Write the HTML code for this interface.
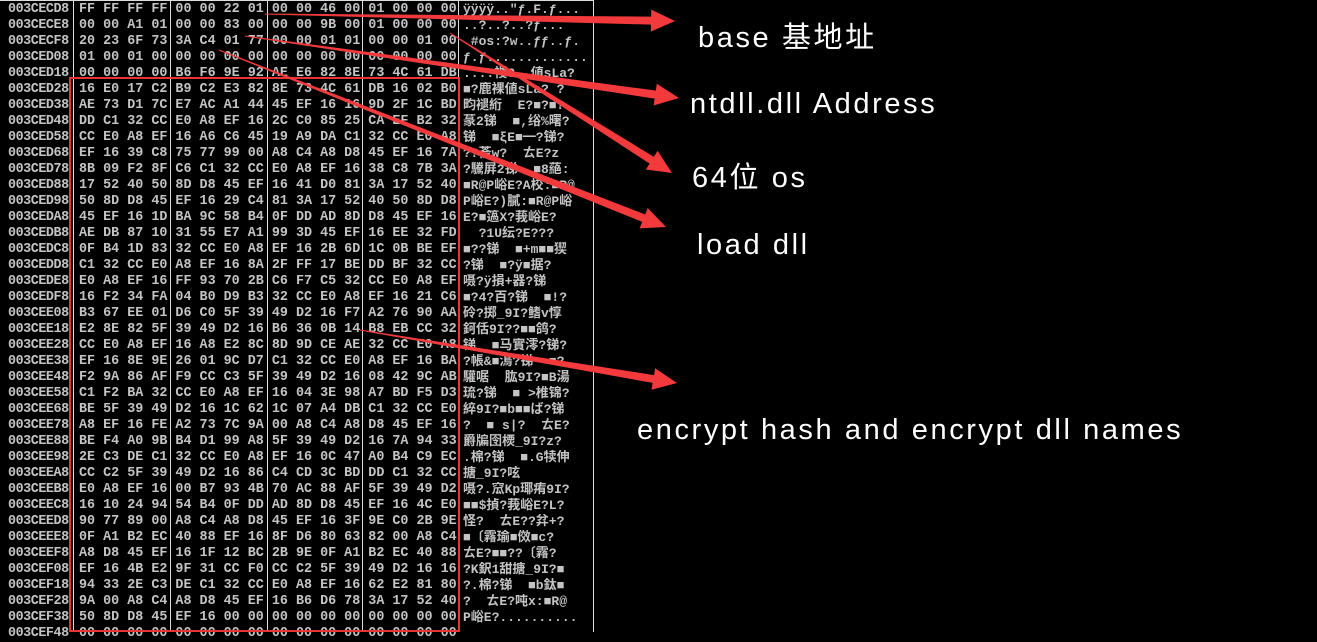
<!DOCTYPE html>
<html><head><meta charset="utf-8"><style>
body{margin:0;width:1317px;height:632px;background:#000;overflow:hidden;position:relative;font-family:"Liberation Mono","Noto Sans CJK SC",monospace;}
.r{position:absolute;left:0;height:16px;line-height:16px;font-size:13.4px;font-weight:bold;color:#c4c4c4;white-space:pre;}
.a{position:absolute;left:8px;letter-spacing:-0.45px}
.b{position:absolute;left:79px}
.c{position:absolute;left:463px;width:128px;overflow:hidden;font-size:13px;font-family:"Liberation Mono","Noto Sans CJK SC",monospace}
.v{position:absolute;top:0;width:1px;height:632px;background:#ddd}
.t{position:absolute;color:#fff;font-family:"Liberation Sans","Noto Sans CJK SC",sans-serif;font-size:29px;white-space:nowrap;letter-spacing:2.6px}
</style></head><body>
<div style="position:absolute;left:0;top:0;width:594px;height:1px;background:#ddd"></div>
<div class="v" style="left:73px"></div><div class="v" style="left:170px"></div><div class="v" style="left:267px"></div><div class="v" style="left:362px"></div><div class="v" style="left:458px"></div><div class="v" style="left:593px"></div>
<div class="r" style="top:2px"><span class="a">003CECD8</span><span class="b">FF FF FF FF 00 00 22 01 00 00 46 00 01 00 00 00</span><span class="c">ÿÿÿÿ.."ƒ.F.ƒ...</span></div>
<div class="r" style="top:18px"><span class="a">003CECE8</span><span class="b">00 00 A1 01 00 00 83 00 00 00 9B 00 01 00 00 00</span><span class="c">..?..?..?ƒ...</span></div>
<div class="r" style="top:34px"><span class="a">003CECF8</span><span class="b">20 23 6F 73 3A C4 01 77 00 00 01 01 00 00 01 00</span><span class="c"> #os:?w..ƒƒ..ƒ.</span></div>
<div class="r" style="top:50px"><span class="a">003CED08</span><span class="b">01 00 01 00 00 00 00 00 00 00 00 00 00 00 00 00</span><span class="c">ƒ.ƒ.............</span></div>
<div class="r" style="top:66px"><span class="a">003CED18</span><span class="b">00 00 00 00 B6 F6 9E 92 AE E6 82 8E 73 4C 61 DB</span><span class="c">....禝?  値sLa?</span></div>
<div class="r" style="top:82px"><span class="a">003CED28</span><span class="b">16 E0 17 C2 B9 C2 E3 82 8E 73 4C 61 DB 16 02 B0</span><span class="c">■?鹿裸値sLa? ?</span></div>
<div class="r" style="top:98px"><span class="a">003CED38</span><span class="b">AE 73 D1 7C E7 AC A1 44 45 EF 16 16 9D 2F 1C BD</span><span class="c">畇褪絎  E?■?■?</span></div>
<div class="r" style="top:114px"><span class="a">003CED48</span><span class="b">DD C1 32 CC E0 A8 EF 16 2C C0 85 25 CA EF B2 32</span><span class="c">蒃2锑  ■,绤%曙?</span></div>
<div class="r" style="top:130px"><span class="a">003CED58</span><span class="b">CC E0 A8 EF 16 A6 C6 45 19 A9 DA C1 32 CC E0 A8</span><span class="c">锑  ■ξE■━?锑?</span></div>
<div class="r" style="top:146px"><span class="a">003CED68</span><span class="b">EF 16 39 C8 75 77 99 00 A8 C4 A8 D8 45 EF 16 7A</span><span class="c">??菕w?  ㄊE?z</span></div>
<div class="r" style="top:162px"><span class="a">003CED78</span><span class="b">8B 09 F2 8F C6 C1 32 CC E0 A8 EF 16 38 C8 7B 3A</span><span class="c">?驣屛2锑  ■8蕝:</span></div>
<div class="r" style="top:178px"><span class="a">003CED88</span><span class="b">17 52 40 50 8D D8 45 EF 16 41 D0 81 3A 17 52 40</span><span class="c">■R@P峪E?A校:■R@</span></div>
<div class="r" style="top:194px"><span class="a">003CED98</span><span class="b">50 8D D8 45 EF 16 29 C4 81 3A 17 52 40 50 8D D8</span><span class="c">P峪E?)膩:■R@P峪</span></div>
<div class="r" style="top:210px"><span class="a">003CEDA8</span><span class="b">45 EF 16 1D BA 9C 58 B4 0F DD AD 8D D8 45 EF 16</span><span class="c">E?■簻X?莪峪E?</span></div>
<div class="r" style="top:226px"><span class="a">003CEDB8</span><span class="b">AE DB 87 10 31 55 E7 A1 99 3D 45 EF 16 EE 32 FD</span><span class="c">  ?1U纭?E???</span></div>
<div class="r" style="top:242px"><span class="a">003CEDC8</span><span class="b">0F B4 1D 83 32 CC E0 A8 EF 16 2B 6D 1C 0B BE EF</span><span class="c">■??锑  ■+m■■猰</span></div>
<div class="r" style="top:258px"><span class="a">003CEDD8</span><span class="b">C1 32 CC E0 A8 EF 16 8A 2F FF 17 BE DD BF 32 CC</span><span class="c">?锑  ■?ÿ■据?</span></div>
<div class="r" style="top:274px"><span class="a">003CEDE8</span><span class="b">E0 A8 EF 16 FF 93 70 2B C6 F7 C5 32 CC E0 A8 EF</span><span class="c">嗫?ÿ損+器?锑</span></div>
<div class="r" style="top:290px"><span class="a">003CEDF8</span><span class="b">16 F2 34 FA 04 B0 D9 B3 32 CC E0 A8 EF 16 21 C6</span><span class="c">■?4?百?锑  ■!?</span></div>
<div class="r" style="top:306px"><span class="a">003CEE08</span><span class="b">B3 67 EE 01 D6 C0 5F 39 49 D2 16 F7 A2 76 90 AA</span><span class="c">砱?掷_9I?鳍v惇</span></div>
<div class="r" style="top:322px"><span class="a">003CEE18</span><span class="b">E2 8E 82 5F 39 49 D2 16 B6 36 0B 14 B8 EB CC 32</span><span class="c">鈳佸9I??■■鸽?</span></div>
<div class="r" style="top:338px"><span class="a">003CEE28</span><span class="b">CC E0 A8 EF 16 A8 E2 8C 8D 9D CE AE 32 CC E0 A8</span><span class="c">锑  ■马實澪?锑?</span></div>
<div class="r" style="top:354px"><span class="a">003CEE38</span><span class="b">EF 16 8E 9E 26 01 9C D7 C1 32 CC E0 A8 EF 16 BA</span><span class="c">?帳&■溩?锑  ■?</span></div>
<div class="r" style="top:370px"><span class="a">003CEE48</span><span class="b">F2 9A 86 AF F9 CC C3 5F 39 49 D2 16 08 42 9C AB</span><span class="c">驩啹  肱9I?■B湯</span></div>
<div class="r" style="top:386px"><span class="a">003CEE58</span><span class="b">C1 F2 BA 32 CC E0 A8 EF 16 04 3E 98 A7 BD F5 D3</span><span class="c">琉?锑  ■ >椎锦?</span></div>
<div class="r" style="top:402px"><span class="a">003CEE68</span><span class="b">BE 5F 39 49 D2 16 1C 62 1C 07 A4 DB C1 32 CC E0</span><span class="c">綷9I?■b■■ば?锑</span></div>
<div class="r" style="top:418px"><span class="a">003CEE78</span><span class="b">A8 EF 16 FE A2 73 7C 9A 00 A8 C4 A8 D8 45 EF 16</span><span class="c">?  ■ s|?  ㄊE?</span></div>
<div class="r" style="top:434px"><span class="a">003CEE88</span><span class="b">BE F4 A0 9B B4 D1 99 A8 5F 39 49 D2 16 7A 94 33</span><span class="c">爵牑囹樮_9I?z?</span></div>
<div class="r" style="top:450px"><span class="a">003CEE98</span><span class="b">2E C3 DE C1 32 CC E0 A8 EF 16 0C 47 A0 B4 C9 EC</span><span class="c">.棉?锑  ■.G犊伸</span></div>
<div class="r" style="top:466px"><span class="a">003CEEA8</span><span class="b">CC C2 5F 39 49 D2 16 86 C4 CD 3C BD DD C1 32 CC</span><span class="c">搪_9I?呟<?捷??</span></div>
<div class="r" style="top:482px"><span class="a">003CEEB8</span><span class="b">E0 A8 EF 16 00 B7 93 4B 70 AC 88 AF 5F 39 49 D2</span><span class="c">嗫?.窊Kp瑘痏9I?</span></div>
<div class="r" style="top:498px"><span class="a">003CEEC8</span><span class="b">16 10 24 94 54 B4 0F DD AD 8D D8 45 EF 16 4C E0</span><span class="c">■■$揁?莪峪E?L?</span></div>
<div class="r" style="top:514px"><span class="a">003CEED8</span><span class="b">90 77 89 00 A8 C4 A8 D8 45 EF 16 3F 9E C0 2B 9E</span><span class="c">怪?  ㄊE??弅+?</span></div>
<div class="r" style="top:530px"><span class="a">003CEEE8</span><span class="b">0F A1 B2 EC 40 88 EF 16 8F D6 80 63 82 00 A8 C4</span><span class="c">■〔霿瑜■傚■c?</span></div>
<div class="r" style="top:546px"><span class="a">003CEEF8</span><span class="b">A8 D8 45 EF 16 1F 12 BC 2B 9E 0F A1 B2 EC 40 88</span><span class="c">ㄊE?■■??〔霿?</span></div>
<div class="r" style="top:562px"><span class="a">003CEF08</span><span class="b">EF 16 4B E2 9F 31 CC F0 CC C2 5F 39 49 D2 16 16</span><span class="c">?K鈬1甜搪_9I?■</span></div>
<div class="r" style="top:578px"><span class="a">003CEF18</span><span class="b">94 33 2E C3 DE C1 32 CC E0 A8 EF 16 62 E2 81 80</span><span class="c">?.棉?锑  ■b鈦■</span></div>
<div class="r" style="top:594px"><span class="a">003CEF28</span><span class="b">9A 00 A8 C4 A8 D8 45 EF 16 B6 D6 78 3A 17 52 40</span><span class="c">?  ㄊE?吨x:■R@</span></div>
<div class="r" style="top:610px"><span class="a">003CEF38</span><span class="b">50 8D D8 45 EF 16 00 00 00 00 00 00 00 00 00 00</span><span class="c">P峪E?..........</span></div>
<div class="r" style="top:626px"><span class="a">003CEF48</span><span class="b">00 00 00 00 00 00 00 00 00 00 00 00 00 00 00 00</span></div>
<div style="position:absolute;left:69px;top:77px;width:387px;height:551px;border:2px solid #e83434"></div>
<svg width="1317" height="632" style="position:absolute;left:0;top:0">
<g fill="#f23a3c">
<polygon points="265,14.5 650.9,24.6 650.8,31.6 675,21 651.2,9.6 651.1,16.6 265,13.5"/>
<polygon points="244.9,36.5 654.6,98.6 653.6,105.5 679,98 656.8,83.7 655.8,90.6 245.1,35.5"/>
<polygon points="449.7,33.4 649.6,163.6 645.8,169.5 672,173 657.6,150.9 653.8,156.8 450.3,32.6"/>
<polygon points="218.8,50.5 642.2,221.9 639.6,228.4 666,227 647.7,208 645.2,214.5 219.2,49.5"/>
<polygon points="359.9,330.5 652.6,382.9 651.5,389.8 677,383 655.1,368.2 654,375.1 360.1,329.5"/>
</g></svg>
<div class="t" style="left:698px;top:14px">base 基地址</div>
<div class="t" style="left:690px;top:88px">ntdll.dll Address</div>
<div class="t" style="left:692px;top:154px">64位 os</div>
<div class="t" style="left:697px;top:229px">load dll</div>
<div class="t" style="left:637px;top:414px">encrypt hash and encrypt dll names</div>
</body></html>
